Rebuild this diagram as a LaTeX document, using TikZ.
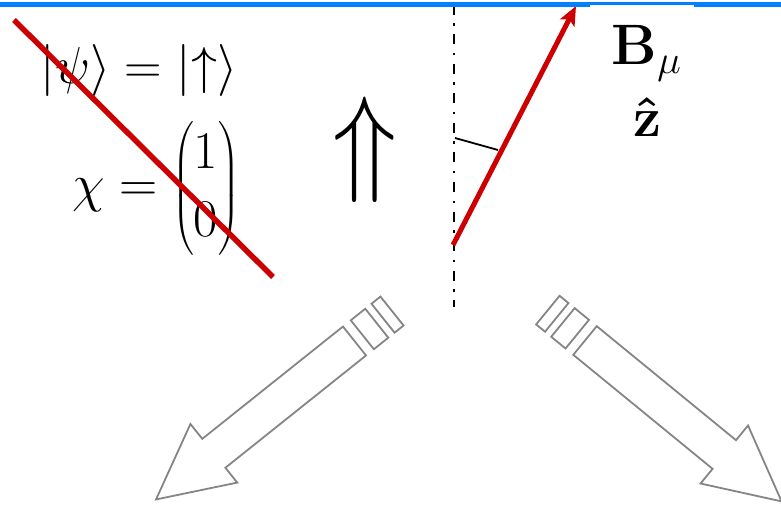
\RequirePackage{fix-cm}
\documentclass[tikz,border=0pt]{standalone}
\usepackage{amsmath}
\usepackage{tikz}
\usetikzlibrary{arrows.meta}
\definecolor{redc}{HTML}{CC0000}
\definecolor{bluec}{HTML}{0080FF}
\definecolor{grayc}{HTML}{858585}

\begin{document}
\begin{tikzpicture}[x=1pt, y=-1pt]
  \useasboundingbox (0,0) rectangle (781,505);
  % state and spinor
  \node (psi) at (139,71) {\fontsize{52}{60}\selectfont $|\psi\rangle = |{\uparrow}\rangle$};
  \node (chi) at (156,188.5) {\fontsize{53}{68}\selectfont $\chi = \begin{pmatrix}1\\0\end{pmatrix}$};
  \node[xscale=0.89, transform shape] (up) at (364.5,150) {\fontsize{119}{119}\selectfont $\Uparrow$};
  % axis, field vector and angle tick
  \coordinate (axtop) at (454,5);
  \coordinate (axbot) at (454,307);
  \draw[line width=2.2pt, dash pattern=on 10pt off 8.5pt on 2.5pt off 8.5pt] (axtop) -- (axbot);
  \coordinate (tk0) at (455,138);
  \coordinate (tk1) at (498,150);
  \draw[line width=1.8pt] (tk0) -- (tk1);
  \coordinate (mu0) at (453,245);
  \coordinate (mu1) at (576,6);
  \draw[redc, line width=5pt, -{Stealth[length=19pt,width=16pt,inset=4pt]}] (mu0) -- (mu1);
  % top rule
  \draw[bluec, line width=5.5pt] (0,4.5) -- (781,4.5);
  \fill[white] (590,5) rectangle (694,150);
  \node[anchor=base] (bmu) at (646.5,65) {\fontsize{57}{57}\selectfont $\mathbf{B}_{\mu}$};
  \node[anchor=base] (zhat) at (647.5,137) {\fontsize{56}{56}\selectfont $\boldsymbol{\hat{\mathbf{z}}}$};
  % strike through
  \coordinate (s0) at (14,20);
  \coordinate (s1) at (273,277);
  \draw[redc, line width=5.5pt] (s0) -- (s1);
  % hollow arrows
  \foreach \cx/\cy/\ang in {354.5/341/218.6, 585/340.5/-39.3}{
    \begin{scope}[shift={(\cx,\cy)}, rotate=\ang, grayc, line width=1.8pt]
      \draw (0,-18.5) -- (180,-18.5) -- (180,-37.5) -- (254,0) -- (180,37.5) -- (180,18.5) -- (0,18.5) -- cycle;
      \draw (-10,-18.5) rectangle (-28.5,18.5);
      \draw (-36.5,-18.5) rectangle (-48,18.5);
    \end{scope}
  }
\end{tikzpicture}
\end{document}
